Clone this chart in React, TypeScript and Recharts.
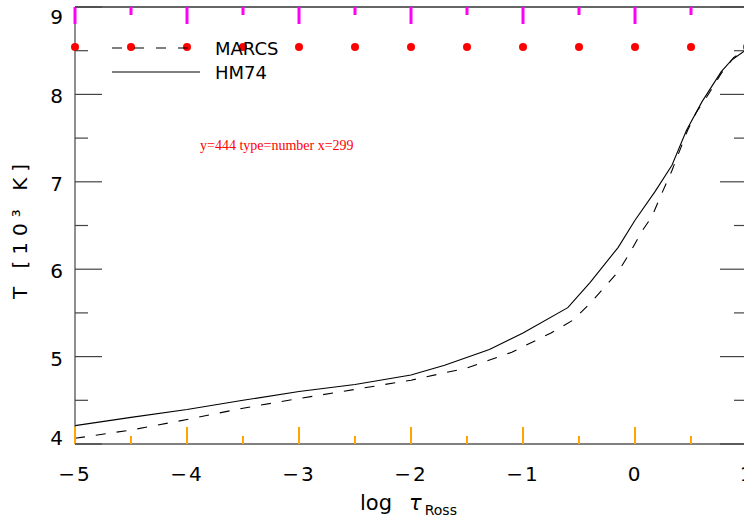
// @ts-nocheck
import React from 'react';
import { LineChart, Line, XAxis, YAxis, Legend } from 'recharts';

// log tau_Ross vs T [10^3 K]
const MARCS_TAU = [-5, -4.5, -4, -3.5, -3, -2.5, -2, -1.5, -1.1, -0.75, -0.55, -0.4, -0.15, -0.045, 0.07, 0.15, 0.24, 0.33, 0.4, 0.47, 0.55, 0.64, 0.77, 0.88, 1.0];
const MARCS_T = [4.065, 4.16, 4.28, 4.41, 4.52, 4.625, 4.73, 4.87, 5.05, 5.27, 5.42, 5.61, 5.97, 6.19, 6.45, 6.6, 6.87, 7.13, 7.36, 7.59, 7.8, 7.97, 8.24, 8.42, 8.53];

const HM74_TAU = [-5, -4.5, -4, -3.5, -3, -2.5, -2, -1.7, -1.3, -1.0, -0.6, -0.4, -0.15, 0.0, 0.18, 0.33, 0.46, 0.6, 0.77, 0.86, 0.97, 1.0];
const HM74_T = [4.21, 4.305, 4.395, 4.5, 4.6, 4.68, 4.79, 4.9, 5.08, 5.27, 5.56, 5.85, 6.25, 6.56, 6.89, 7.19, 7.59, 7.92, 8.26, 8.39, 8.49, 8.51];

const X_TICKS = [-5, -4.5, -4, -3.5, -3, -2.5, -2, -1.5, -1, -0.5, 0, 0.5, 1];
const Y_TICKS = [4, 4.5, 5, 5.5, 6, 6.5, 7, 7.5, 8, 8.5, 9];
const LEGEND_ORDER = ['MARCS', 'HM74'];

const marcs = MARCS_TAU.map((tau, i) => ({ tau, T: MARCS_T[i] }));
const hm74 = HM74_TAU.map((tau, i) => ({ tau, T: HM74_T[i] }));

const FONT = '"DejaVu Sans", "Liberation Sans", Arial, sans-serif';
const AX = '#444';
const PLOT_H = 437;

const fmt = (v) => (v < 0 ? '\u2212' + Math.abs(v) : String(v));
const isMajor = (v) => Number.isInteger(v);

function BottomTick(props) {
  const { x, y, payload } = props;
  const v = payload.value;
  const len = isMajor(v) ? 17 : 8;
  const top = Number(y) - PLOT_H;
  return (
    <g>
      <line x1={x} x2={x} y1={y} y2={Number(y) - len} stroke="orange" strokeWidth={2} />
      <line x1={x} x2={x} y1={top} y2={top + len} stroke="magenta" strokeWidth={3} />
      <circle cx={x} cy={top + 40} r={4} fill="red" />
      {isMajor(v) ? (
        <text x={x} y={Number(y) + 37} textAnchor="middle" fontFamily={FONT} fontSize={20} letterSpacing={2} fill="#000">
          {fmt(v)}
        </text>
      ) : null}
      {v === -3 ? (
        <text x={200} y={150} fontSize={14} fill="red">{`y=${y} type=${typeof y} x=${x}`}</text>
      ) : null}
    </g>
  );
}

function LeftTick({ x, y, payload }) {
  const v = payload.value;
  const major = isMajor(v);
  let dy = 9;
  if (v === 9) dy = 17;
  if (v === 4) dy = 1;
  return (
    <g>
      <line x1={x} x2={x + (major ? 27 : 13)} y1={y} y2={y} stroke={AX} strokeWidth={1.2} />
      {major ? (
        <text x={x - 12} y={y + dy} textAnchor="end" fontFamily={FONT} fontSize={20} fill="#000">
          {v}
        </text>
      ) : null}
    </g>
  );
}

function RightTick({ x, y, payload }) {
  const major = isMajor(payload.value);
  return <line x1={x} x2={x - (major ? 27 : 13)} y1={y} y2={y} stroke={AX} strokeWidth={1.2} />;
}

function XTitle({ viewBox }) {
  const cx = viewBox.x + viewBox.width / 2;
  return (
    <text x={cx - 51} y={510} fontFamily={FONT} fontSize={21} fill="#000">
      log
      <tspan dx={17} fontStyle="italic">τ</tspan>
      <tspan dx={3} dy={5} fontSize={14}>Ross</tspan>
    </text>
  );
}

function YTitle({ viewBox }) {
  const cy = viewBox.y + viewBox.height / 2 + 3;
  const bx = 27;
  return (
    <text x={bx} y={cy} transform={`rotate(-90, ${bx}, ${cy})`} textAnchor="middle" fontFamily={FONT} fontSize={20} letterSpacing={6} fill="#000">
      T [10³ K]
    </text>
  );
}

function LegendBox({ payload }) {
  const items = [...(payload || [])].sort((a, b) => LEGEND_ORDER.indexOf(a.value) - LEGEND_ORDER.indexOf(b.value));
  return (
    <svg width={220} height={60}>
      {items.map((p, i) => (
        <g key={p.value}>
          <line x1={12} x2={100} y1={18 + i * 24} y2={18 + i * 24} stroke="#000" strokeWidth={1.1}
            strokeDasharray={p.payload?.strokeDasharray ? '10 12' : undefined} />
          <text x={115} y={24.5 + i * 24} fontFamily={FONT} fontSize={18} fill="#000">{p.value}</text>
        </g>
      ))}
    </svg>
  );
}

export default function App() {
  return (
    <div style={{ position: 'fixed', left: 0, top: 0, width: 744, height: 523, overflow: 'hidden', background: '#fff' }}>
      <LineChart width={760} height={523} margin={{ top: 6, right: 12, bottom: 0, left: 0 }}>
        <XAxis xAxisId="b" type="number" dataKey="tau" domain={[-5, 1]} ticks={X_TICKS} interval={0} tick={BottomTick}
          tickLine={false} tickSize={0} tickMargin={0} height={79} axisLine={{ stroke: '#000' }} allowDataOverflow label={XTitle} />
        <XAxis xAxisId="t" orientation="top" type="number" dataKey="tau" domain={[-5, 1]} tick={false} tickLine={false}
          height={1} axisLine={{ stroke: '#333', strokeWidth: 1.4 }} allowDataOverflow />
        <YAxis yAxisId="l" type="number" domain={[4, 9]} ticks={Y_TICKS} interval={0} tick={LeftTick} tickLine={false}
          tickSize={0} tickMargin={0} width={75} axisLine={{ stroke: AX, strokeWidth: 1.2 }} allowDataOverflow label={YTitle} />
        <YAxis yAxisId="r" orientation="right" type="number" domain={[4, 9]} ticks={Y_TICKS} interval={0} tick={RightTick}
          tickLine={false} tickSize={0} tickMargin={0} width={1} axisLine={{ stroke: AX }} allowDataOverflow />
        <Legend layout="horizontal" verticalAlign="middle" align="center" content={LegendBox}
          wrapperStyle={{ position: 'absolute', left: 100, top: 30, width: 220, height: 60 }} />
        <Line xAxisId="t" yAxisId="l" data={marcs} dataKey="T" name="MARCS" stroke="#000" strokeWidth={1.1}
          strokeDasharray="10 11" dot={false} activeDot={false} isAnimationActive={false} />
        <Line xAxisId="b" yAxisId="l" data={hm74} dataKey="T" name="HM74" stroke="#000" strokeWidth={1.1}
          dot={false} activeDot={false} isAnimationActive={false} />
      </LineChart>
    </div>
  );
}
